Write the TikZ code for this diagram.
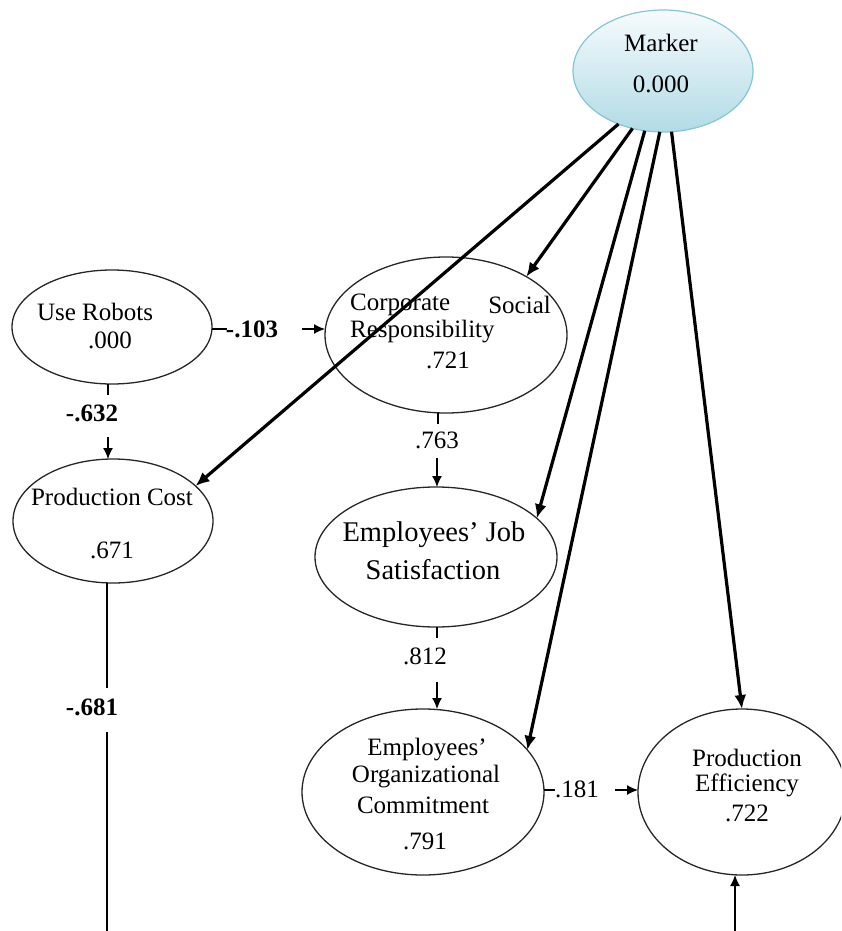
\documentclass[tikz,border=0pt]{standalone}
\usepackage{fontspec}
\setmainfont{Liberation Serif}
\usetikzlibrary{arrows.meta,shapes.geometric}
\definecolor{mkborder}{RGB}{135,196,214}
\definecolor{mktop}{RGB}{246,251,253}
\definecolor{mkbot}{RGB}{178,219,230}
\begin{document}
\begin{tikzpicture}[x=1pt,y=-1pt,
  lat/.style={ellipse, draw=black!85, line width=1.3pt, inner sep=0pt, outer sep=0pt},
  txt/.style={inner sep=0pt, font=\fontsize{25}{29}\selectfont},
  bigtxt/.style={inner sep=0pt, font=\fontsize{28.5}{32}\selectfont},
  btxt/.style={inner sep=0pt, font=\fontsize{25}{29}\selectfont\bfseries},
  thin/.style={line width=1.3pt, draw=black},
  tarr/.style={line width=1.3pt, draw=black, -{Latex[length=11pt,width=10pt]}},
  marr/.style={line width=3.2pt, draw=black, -{Latex[length=14pt,width=12pt]}}]
\clip (0,0) rectangle (841,931);

% ellipses
\node[ellipse, draw=mkborder, line width=1.2pt, top color=mktop, bottom color=mkbot,
      minimum width=180pt, minimum height=122pt, inner sep=0pt, outer sep=0pt] (mk) at (663,71) {};
\node[lat, minimum width=200pt, minimum height=114pt] (ur) at (112,327) {};
\node[lat, minimum width=242pt, minimum height=156pt] (csr) at (446,335) {};
\node[lat, minimum width=200pt, minimum height=124pt] (pc) at (113,521) {};
\node[lat, minimum width=242pt, minimum height=140pt] (js) at (436,557) {};
\node[lat, minimum width=242pt, minimum height=166pt] (oc) at (423,792) {};
\node[lat, minimum width=208pt, minimum height=166pt] (pe) at (742,792) {};

% texts
\node[txt] (mkA) at (661,43) {Marker};
\node[txt] (mkB) at (661,84) {0.000};
\node[txt] (urA) at (95,312) {Use Robots};
\node[txt] (urB) at (110,340) {.000};
\node[txt, anchor=west] (csrA) at (350,305) {Corporate};
\node[txt, anchor=east] (csrB) at (551,305) {Social};
\node[txt, anchor=west] (csrC) at (350,332) {Responsibility};
\node[txt] (csrD) at (448,360) {.721};
\node[txt] (pcA) at (112,497) {Production Cost};
\node[txt] (pcB) at (112,550) {.671};
\node[bigtxt] (jsA) at (434,535) {Employees’ Job};
\node[bigtxt] (jsB) at (433,570) {Satisfaction};
\node[txt] (ocA) at (427,750) {Employees’};
\node[txt] (ocB) at (426,777) {Organizational};
\node[txt] (ocC) at (423,805) {Commitment};
\node[txt] (ocD) at (425,841) {.791};
\node[txt] (peA) at (747,758) {Production};
\node[txt] (peB) at (747,785) {Efficiency};
\node[txt] (peC) at (747,813) {.722};

% path labels
\node[btxt] (l103) at (252,329) {-.103};
\node[btxt] (l632) at (92,413) {-.632};
\node[btxt] (l681) at (92,707) {-.681};
\node[txt] (l763) at (437,440) {.763};
\node[txt] (l812) at (425,656) {.812};
\node[txt] (l181) at (577,789) {.181};

% free ends
\coordinate (e103a) at (227,329);
\coordinate (e103b) at (302,329);
\coordinate (e632a) at (108,395);
\coordinate (e632b) at (108,437);
\coordinate (e681a) at (107,688);
\coordinate (e681b) at (107,732);
\coordinate (e681c) at (107,931);
\coordinate (e763a) at (438,424);
\coordinate (e763b) at (437,458);
\coordinate (e812a) at (437,638);
\coordinate (e812b) at (437,682);
\coordinate (e181a) at (555,790);
\coordinate (e181b) at (615,790);
\coordinate (ebot) at (735,931);

% thin paths
\draw[thin] (ur.east |- e103a) -- (e103a);
\draw[tarr] (e103b) -- (csr.west |- e103b);
\draw[thin] (ur.south -| e632a) -- (e632a);
\draw[tarr] (e632b) -- (pc.north -| e632b);
\draw[thin] (pc.south -| e681a) -- (e681a);
\draw[thin] (e681b) -- (e681c);
\draw[thin] (csr.south -| e763a) -- (e763a);
\draw[tarr] (e763b) -- (js.north -| e763b);
\draw[thin] (js.south -| e812a) -- (e812a);
\draw[tarr] (e812b) -- (oc.north -| e812b);
\draw[thin] (oc.east |- e181a) -- (e181a);
\draw[tarr] (e181b) -- (pe.west |- e181b);
\draw[tarr] (ebot) -- (pe.south -| ebot);

% marker paths
\draw[marr] (mk.230.6) -- (pc.23);
\draw[marr] (mk.242.3) -- (csr.36.2);
\draw[marr] (mk.253.8) -- (js.21.1);
\draw[marr] (mk.267.2) -- (oc.22);
\draw[marr] (mk.278.3) -- (pe.north);
\end{tikzpicture}
\end{document}
